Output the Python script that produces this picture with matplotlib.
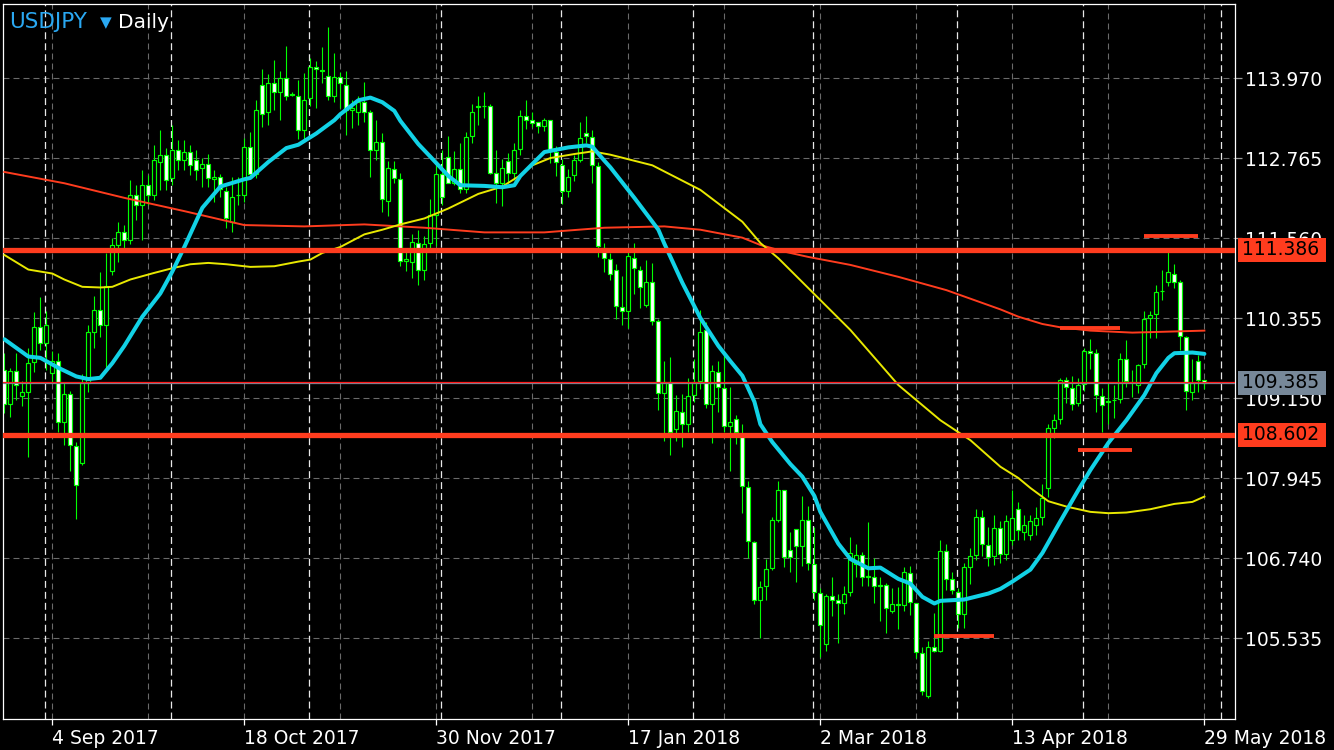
import numpy as np
import matplotlib
matplotlib.use("Agg")
import matplotlib.pyplot as plt
from matplotlib.patches import Rectangle
from matplotlib.transforms import blended_transform_factory

plt.rcParams["font.family"] = ["DejaVu Sans"]
plt.rcParams["lines.scale_dashes"] = False

# ── OHLC, one value per daily bar (USDJPY, Aug 2017 – May 2018) ─────────────
OPEN = [
    109.57, 109.06, 109.56, 109.18, 109.24, 109.69, 110.23, 109.98, 109.53, 109.72,
    108.80, 109.21, 108.43, 108.18, 109.38, 110.15, 110.48, 110.25, 111.07, 111.46,
    111.66, 111.54, 112.21, 112.06, 112.36, 112.21, 112.71, 112.82, 112.47, 112.89,
    112.74, 112.86, 112.74, 112.62, 112.68, 112.45, 112.48, 112.28, 111.80, 112.21,
    112.21, 112.93, 112.53, 113.87, 113.46, 113.90, 113.76, 113.97, 113.73, 113.71,
    113.19, 113.67, 114.14, 114.09, 114.00, 113.70, 113.99, 113.87, 113.50, 113.47,
    113.61, 113.46, 112.89, 113.01, 112.13, 112.60, 112.45, 111.22, 111.20, 111.49,
    111.09, 111.49, 111.91, 112.53, 112.78, 112.40, 112.60, 112.30, 113.10, 113.55,
    113.56, 113.55, 112.54, 112.39, 112.72, 112.55, 112.90, 113.40, 113.34, 113.32,
    113.25, 113.35, 112.86, 112.66, 112.28, 112.51, 112.74, 113.14, 113.08, 112.65,
    111.41, 111.25, 111.08, 110.52, 110.46, 111.26, 111.09, 110.55, 110.90, 110.31,
    109.23, 109.39, 108.69, 108.94, 108.77, 109.20, 109.41, 110.18, 109.06, 109.54,
    109.30, 108.74, 108.84, 108.62, 107.81, 106.98, 106.12, 106.32, 106.59, 107.31,
    107.77, 106.86, 107.18, 106.92, 107.31, 106.65, 106.22, 105.45, 106.18, 106.11,
    106.06, 106.23, 106.65, 106.79, 106.47, 106.46, 106.34, 106.34, 105.94, 106.05,
    106.03, 106.52, 106.06, 105.31, 104.66, 105.40, 105.34, 106.85, 106.43, 106.23,
    105.90, 106.61, 106.79, 107.37, 106.94, 106.77, 107.19, 106.80, 107.02, 107.49,
    107.14, 107.09, 107.24, 107.37, 107.80, 108.71, 108.84, 109.42, 109.30, 109.08,
    109.36, 109.86, 109.83, 109.18, 109.11, 109.12, 109.14, 109.74, 109.39, 109.35,
    109.66, 110.36, 110.42, 110.76, 110.90, 111.03, 110.90, 110.07, 109.24, 109.71,
    109.42,
]
HIGH = [
    109.83, 109.61, 109.83, 109.41, 109.91, 110.45, 110.67, 110.47, 109.87, 109.83,
    109.38, 109.26, 108.49, 109.51, 110.25, 110.69, 111.05, 111.34, 111.57, 111.81,
    111.76, 112.44, 112.36, 112.59, 112.51, 112.97, 113.19, 112.92, 113.27, 113.04,
    113.04, 112.97, 112.89, 112.77, 112.83, 112.59, 112.53, 112.34, 112.49, 112.49,
    113.07, 113.16, 113.64, 114.11, 114.03, 114.24, 114.08, 114.45, 113.76, 113.94,
    114.05, 114.28, 114.23, 114.44, 114.74, 114.35, 114.06, 114.08, 113.64, 113.71,
    113.91, 113.50, 113.34, 113.14, 112.72, 112.72, 112.55, 111.39, 111.62, 111.69,
    111.59, 112.15, 112.69, 112.89, 113.10, 112.87, 112.99, 113.16, 113.59, 113.70,
    113.76, 113.58, 112.89, 112.75, 112.84, 112.99, 113.50, 113.64, 113.46, 113.32,
    113.38, 113.35, 112.95, 112.75, 112.61, 112.81, 113.31, 113.40, 113.19, 112.71,
    111.49, 111.34, 111.18, 110.99, 111.35, 111.49, 111.14, 111.23, 111.19, 110.34,
    109.71, 109.77, 109.20, 109.22, 109.45, 109.75, 110.48, 110.30, 109.65, 109.71,
    109.81, 109.32, 108.90, 108.77, 107.90, 107.00, 106.40, 106.73, 107.37, 107.90,
    107.77, 107.13, 107.18, 107.68, 107.53, 107.21, 106.29, 106.20, 106.46, 106.21,
    106.32, 107.06, 106.95, 106.83, 107.28, 106.74, 106.46, 106.37, 106.29, 106.31,
    106.61, 106.62, 106.06, 105.40, 105.49, 105.91, 107.01, 106.95, 106.53, 106.29,
    106.67, 106.89, 107.49, 107.47, 107.21, 107.39, 107.30, 107.39, 107.77, 107.59,
    107.39, 107.39, 107.52, 107.86, 108.76, 108.91, 109.45, 109.47, 109.48, 109.45,
    109.91, 110.04, 109.89, 109.30, 109.39, 109.35, 109.83, 110.03, 109.57, 109.66,
    110.46, 110.46, 110.85, 111.08, 111.38, 111.18, 110.93, 110.09, 109.74, 109.80,
    109.43,
]
LOW = [
    108.93, 108.87, 109.12, 109.03, 108.27, 109.55, 109.88, 109.58, 109.39, 108.65,
    108.45, 108.06, 107.33, 108.14, 109.25, 109.91, 110.08, 109.60, 111.01, 111.20,
    111.41, 111.48, 111.84, 111.54, 112.06, 112.14, 112.29, 112.29, 112.36, 112.59,
    112.59, 112.51, 112.44, 112.34, 112.34, 112.11, 112.19, 111.71, 111.66, 112.06,
    112.11, 112.49, 112.47, 113.24, 113.26, 113.49, 113.35, 113.65, 113.70, 113.05,
    113.02, 113.55, 113.53, 113.90, 113.65, 113.62, 113.52, 113.11, 113.22, 113.26,
    113.32, 112.49, 112.74, 111.96, 111.90, 112.39, 111.15, 111.07, 110.96, 110.85,
    110.93, 111.35, 111.45, 112.06, 112.39, 112.37, 112.24, 112.24, 112.99, 113.26,
    113.38, 112.53, 112.09, 112.04, 112.39, 112.44, 112.81, 113.20, 113.23, 113.14,
    113.17, 112.69, 112.50, 112.07, 112.19, 112.43, 112.71, 112.99, 112.39, 111.28,
    111.05, 110.93, 110.34, 110.26, 110.21, 110.72, 110.51, 110.52, 110.26, 108.98,
    108.51, 108.29, 108.51, 108.42, 108.65, 109.10, 109.29, 109.00, 108.47, 108.94,
    108.65, 108.06, 108.46, 107.42, 106.74, 106.05, 105.54, 106.11, 106.56, 107.28,
    106.61, 106.53, 106.38, 106.62, 106.57, 106.11, 105.26, 105.35, 105.87, 105.46,
    105.90, 106.17, 106.46, 106.32, 106.32, 106.06, 105.79, 105.61, 105.91, 105.67,
    105.94, 105.88, 105.24, 104.68, 104.63, 105.33, 105.33, 106.27, 106.21, 105.69,
    105.69, 106.35, 106.71, 106.77, 106.62, 106.64, 106.67, 106.72, 106.94, 107.02,
    107.02, 107.02, 107.09, 107.24, 107.67, 108.56, 108.77, 109.08, 108.97, 109.03,
    109.26, 109.59, 108.94, 108.65, 108.77, 108.85, 109.08, 109.32, 109.17, 109.23,
    109.60, 110.06, 110.06, 110.63, 110.84, 110.81, 109.88, 108.97, 109.12, 109.24,
    109.29,
]
CLOSE = [
    109.07, 109.56, 109.35, 109.24, 109.68, 110.23, 109.98, 110.25, 109.72, 108.80,
    109.21, 108.44, 107.84, 109.38, 110.15, 110.48, 110.25, 110.84, 111.46, 111.66,
    111.54, 112.21, 112.06, 112.36, 112.21, 112.74, 112.82, 112.44, 112.89, 112.74,
    112.86, 112.67, 112.59, 112.68, 112.47, 112.49, 112.31, 111.86, 112.19, 112.22,
    112.93, 112.53, 113.50, 113.44, 113.90, 113.76, 113.97, 113.70, 113.72, 113.19,
    113.65, 114.14, 114.11, 114.08, 113.70, 113.99, 113.90, 113.50, 113.53, 113.61,
    113.47, 112.89, 113.01, 112.16, 112.62, 112.47, 111.22, 111.25, 111.50, 111.09,
    111.47, 111.91, 112.53, 112.19, 112.40, 112.60, 112.30, 113.08, 113.46, 113.54,
    113.55, 112.54, 112.39, 112.62, 112.55, 112.89, 113.40, 113.35, 113.29, 113.25,
    113.35, 112.90, 112.71, 112.28, 112.49, 112.74, 113.07, 113.10, 112.66, 111.44,
    111.26, 111.03, 110.54, 110.46, 111.29, 111.11, 110.82, 110.91, 110.31, 109.23,
    109.40, 108.65, 108.96, 108.77, 109.18, 109.40, 110.15, 109.06, 109.56, 109.32,
    108.74, 108.80, 108.65, 107.83, 107.00, 106.12, 106.31, 106.58, 107.31, 107.77,
    106.76, 106.76, 106.92, 107.31, 106.67, 106.23, 105.73, 106.18, 106.12, 106.06,
    106.20, 106.82, 106.79, 106.46, 106.46, 106.32, 106.32, 105.99, 106.05, 106.03,
    106.53, 106.08, 105.33, 104.74, 105.40, 105.34, 106.85, 106.43, 106.27, 105.90,
    106.61, 106.77, 107.37, 106.95, 106.76, 107.19, 106.80, 107.30, 107.35, 107.17,
    107.24, 107.30, 107.35, 107.65, 108.70, 108.82, 109.42, 109.32, 109.06, 109.35,
    109.86, 109.84, 109.20, 109.05, 109.10, 109.13, 109.74, 109.41, 109.40, 109.65,
    110.34, 110.40, 110.75, 110.77, 111.05, 110.91, 110.09, 109.26, 109.38, 109.42,
    109.385,
]

# ── Moving averages (bar index, price) ──────────────────────────────────────
MA_FAST_IDX = [0, 4, 6, 9, 12, 14, 16, 18, 20, 23, 26, 28, 30, 33, 36, 40, 41, 44,
               47, 49, 52, 55, 56, 59, 61, 63, 65, 66, 69, 71, 74, 76, 80, 83, 85,
               86, 89, 90, 94, 97, 98, 100, 101, 105, 109, 110, 113, 116, 119, 121,
               123, 125, 126, 128, 131, 133, 135, 136, 139, 141, 144, 146, 149, 151,
               153, 155, 156, 160, 164, 166, 168, 171, 173, 176, 179, 181, 184, 187,
               190, 192, 194, 195, 198, 200]
MA_FAST = [110.04, 109.78, 109.76, 109.61, 109.48, 109.44, 109.46, 109.68, 109.94,
           110.38, 110.73, 111.06, 111.43, 112.02, 112.34, 112.45, 112.47, 112.71,
           112.92, 112.97, 113.14, 113.34, 113.43, 113.64, 113.68, 113.61, 113.48,
           113.33, 112.98, 112.79, 112.50, 112.36, 112.35, 112.33, 112.36, 112.50,
           112.77, 112.86, 112.93, 112.96, 112.94, 112.73, 112.63, 112.17, 111.69,
           111.48, 110.89, 110.36, 109.94, 109.71, 109.49, 109.10, 108.76, 108.49,
           108.16, 107.97, 107.68, 107.44, 106.96, 106.73, 106.59, 106.60, 106.43,
           106.36, 106.16, 106.06, 106.10, 106.12, 106.21, 106.28, 106.39, 106.57,
           106.82, 107.30, 107.77, 108.07, 108.48, 108.82, 109.20, 109.53, 109.76,
           109.83, 109.84, 109.82]
MA_MID_IDX = [0, 4, 8, 10, 13, 16, 18, 21, 25, 28, 31, 34, 37, 41, 45, 49, 51, 53,
              56, 60, 63, 66, 70, 74, 79, 83, 86, 88, 91, 95, 98, 101, 108, 116, 123,
              126, 129, 134, 141, 149, 156, 161, 166, 169, 171, 174, 177, 181, 184,
              187, 191, 195, 198, 200]
MA_MID = [111.31, 111.09, 111.03, 110.94, 110.83, 110.82, 110.83, 110.94, 111.04,
          111.11, 111.17, 111.19, 111.17, 111.13, 111.14, 111.21, 111.24, 111.34,
          111.43, 111.62, 111.69, 111.77, 111.86, 112.01, 112.23, 112.34, 112.51,
          112.66, 112.77, 112.83, 112.87, 112.82, 112.66, 112.29, 111.81, 111.49,
          111.26, 110.81, 110.18, 109.35, 108.82, 108.52, 108.12, 107.95, 107.80,
          107.60, 107.52, 107.44, 107.42, 107.43, 107.48, 107.56, 107.59, 107.67]
MA_SLOW_IDX = [0, 10, 20, 30, 40, 50, 60, 70, 80, 90, 100, 110, 116, 123, 126, 130,
               134, 141, 149, 157, 166, 169, 173, 176, 181, 188, 200]
MA_SLOW = [112.56, 112.39, 112.17, 111.97, 111.76, 111.74, 111.77, 111.72, 111.65,
           111.65, 111.72, 111.74, 111.69, 111.57, 111.46, 111.36, 111.28, 111.16,
           110.98, 110.78, 110.49, 110.38, 110.27, 110.22, 110.17, 110.14, 110.17]

# ── Horizontal levels ───────────────────────────────────────────────────────
LEVELS = [111.386, 108.602]
BID = 109.385
SEG_START = [190, 176, 179, 155]
SEG_END = [199, 186, 188, 165]
SEG_PRICE = [111.60, 110.21, 108.37, 105.57]

Y_TICKS = [113.970, 112.765, 111.560, 110.355, 109.150, 107.945, 106.740, 105.535]
X_TICKS = [8, 40, 72, 104, 136, 168, 200]
X_LABELS = ["4 Sep 2017", "18 Oct 2017", "30 Nov 2017", "17 Jan 2018",
            "2 Mar 2018", "13 Apr 2018", "29 May 2018"]
GRID_X = [8, 24, 40, 56, 72, 88, 104, 120, 136, 152, 168, 184, 200]
MONTH_SEP = [7, 28, 51, 73, 93, 115, 135, 159, 180, 203]

GREEN = "#00ff00"
RED = "#ff3c1e"
CYAN = "#12d2e6"
YELLOW = "#e8e800"
GRID = "#6a6a6a"

W, H = 1334, 750
fig = plt.figure(figsize=(W / 100, H / 100), dpi=100, facecolor="black")
ax = fig.add_axes([3 / W, 1 - 719 / H, 1232 / W, 715 / H])
ax.set_facecolor("black")
ax.set_xlim(-0.22, 205.1)
ax.set_ylim(104.32, 115.09)

# grid + month separators
for p in Y_TICKS:
    ax.axhline(p, color=GRID, lw=0.8, ls=(0, (4.3, 2.9)), zorder=0.5)
for g in GRID_X:
    ax.axvline(g, color=GRID, lw=0.8, ls=(0, (4.3, 2.9)), zorder=0.5)
for s in MONTH_SEP:
    ax.axvline(s - 0.17, color="#e8e8e8", lw=0.9, ls=(0, (5, 2.9)), zorder=0.6)

# candles
o = np.array(OPEN); h = np.array(HIGH); l = np.array(LOW); c = np.array(CLOSE)
idx = np.arange(len(o))
ax.vlines(idx, l, h, color=GREEN, lw=0.8, zorder=2)
bull = c >= o
body = np.maximum(np.abs(c - o), 0.004)
ax.bar(idx, body, bottom=np.minimum(o, c), width=0.68,
       color=np.where(bull, "black", "white"), edgecolor=GREEN, lw=0.85, zorder=2.2)

# moving averages
ax.plot(MA_SLOW_IDX, MA_SLOW, color=RED, lw=1.4, zorder=3)
ax.plot(MA_MID_IDX, MA_MID, color=YELLOW, lw=1.4, zorder=3)
ax.plot(MA_FAST_IDX, MA_FAST, color=CYAN, lw=2.9, zorder=3.2,
        solid_capstyle="round", solid_joinstyle="round")

# levels
for p in LEVELS:
    ax.axhline(p, color=RED, lw=3.8, zorder=4)
ax.axhline(BID, color="#778899", lw=0.9, zorder=4)
ax.axhline(BID + 0.016, color="#ff1a1a", lw=0.9, zorder=4)
ax.hlines(SEG_PRICE, SEG_START, SEG_END, color=RED, lw=2.8, zorder=4)

# axes styling
for sp in ax.spines.values():
    sp.set_color("white")
    sp.set_linewidth(0.9)
ax.yaxis.tick_right()
ax.set_yticks(Y_TICKS)
ax.set_yticklabels([f"{v:.3f}" for v in Y_TICKS])
ax.tick_params(axis="y", colors="#9a9a9a", labelcolor="white", labelsize=13.5,
               length=5, width=0.9, pad=2)
ax.set_xticks(X_TICKS)
ax.set_xticklabels(X_LABELS)
for lab in ax.get_xticklabels():
    lab.set_horizontalalignment("left")
ax.tick_params(axis="x", colors="white", labelcolor="white", labelsize=13.5,
               length=4, width=0.9, pad=3)

# price boxes on the right axis
tr = blended_transform_factory(ax.transAxes, ax.transData)
half = 0.18
for price, fc in [(LEVELS[0], RED), (BID, "#778899"), (LEVELS[1], RED)]:
    ax.add_patch(Rectangle((1.0 + 3 / 1232, price - half), 88 / 1232, 2 * half,
                           transform=tr, facecolor=fc, edgecolor="none",
                           clip_on=False, zorder=6))
    ax.text(1.0 + 7 / 1232, price, f"{price:.3f}", transform=tr, color="black",
            fontsize=13.5, va="center", ha="left", zorder=7, clip_on=False)

# header
fig.text(9 / W, 1 - 27.5 / H, "USDJPY", color="#2aa8f2", fontsize=15.5, va="baseline")
fig.text(100 / W, 1 - 27.5 / H, "▼", color="#2aa8f2", fontsize=11, va="baseline")
fig.text(118 / W, 1 - 27.5 / H, "Daily", color="white", fontsize=14.5, va="baseline")

fig.savefig("out.png", dpi=100, facecolor="black")
